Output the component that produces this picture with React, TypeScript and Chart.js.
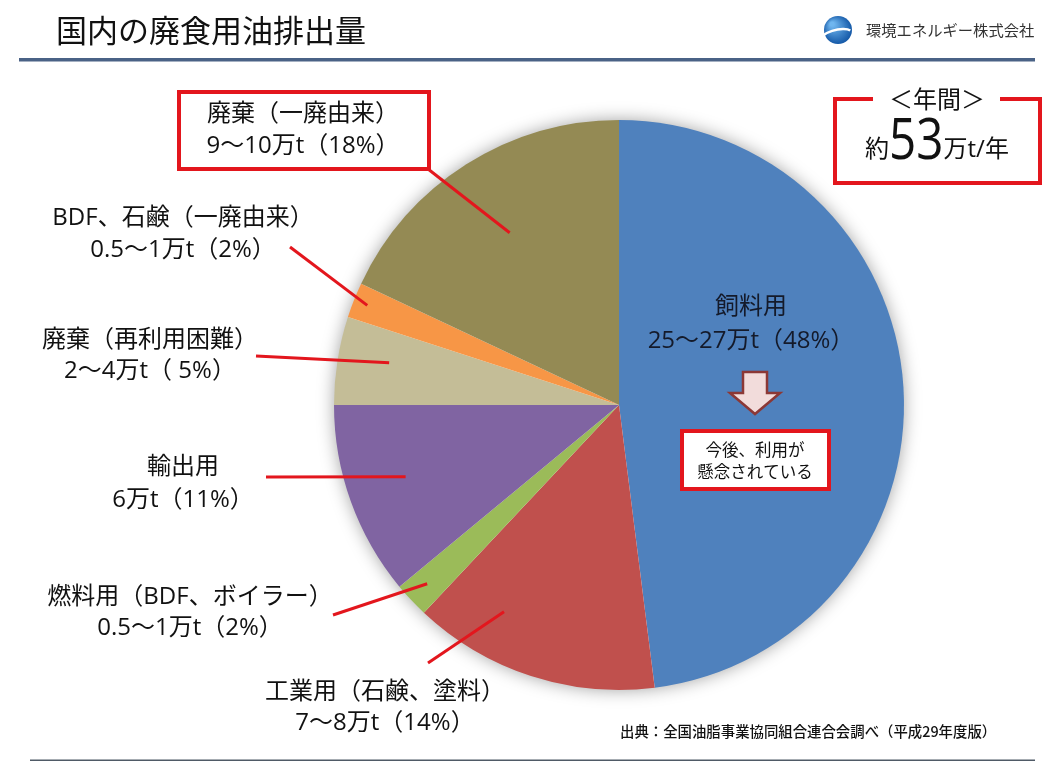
import React, { useEffect, useRef } from "react";
import { Chart, registerables } from "chart.js";

Chart.register(...registerables);

// ---- data ----
const categories = [
  "飼料用",
  "工業用（石鹸、塗料）",
  "燃料用（BDF、ボイラー）",
  "輸出用",
  "廃棄（再利用困難）",
  "BDF、石鹸（一廃由来）",
  "廃棄（一廃由来）",
];
const shares = [48, 14, 2, 11, 5, 2, 18];
const amountLines = [
  "25〜27万t（48%）",
  "7〜8万t（14%）",
  "0.5〜1万t（2%）",
  "6万t（11%）",
  "2〜4万t（ 5%）",
  "0.5〜1万t（2%）",
  "9〜10万t（18%）",
];
const sliceColors = ["#4f81bd", "#c0504d", "#9bbb59", "#8064a2", "#c4bd97", "#f79646", "#948a54"];

const titleText = "国内の廃食用油排出量";
const companyText = "環境エネルギー株式会社";
const sourceText = "出典：全国油脂事業協同組合連合会調べ（平成29年度版）";
const annualHead = "＜年間＞";
const annualPrefix = "約";
const annualValue = "53";
const annualSuffix = "万t/年";
const noteLines = ["今後、利用が", "懸念されている"];

// ---- layout (positions only) ----
const FONT = '"Open Sans", "Noto Sans CJK JP", sans-serif';
const CJK = '"Noto Sans CJK JP", "Noto Sans", sans-serif';
type LabelLayout = { cx: number; y1: number; y2: number; from?: [number, number]; t?: number; rf?: number; box?: [number, number, number, number] };
const labelLayout: LabelLayout[] = [
  { cx: 751, y1: 307, y2: 341 },
  { cx: 385, y1: 692, y2: 723, from: [428, 663], t: 0.72, rf: 0.83 },
  { cx: 190, y1: 597, y2: 628, from: [333, 615], t: 0.53, rf: 0.92 },
  { cx: 183, y1: 467, y2: 500, from: [266, 477], t: 0.53, rf: 0.79 },
  { cx: 150, y1: 340, y2: 371, from: [256, 356], t: 0.58, rf: 0.82 },
  { cx: 183, y1: 218, y2: 250, from: [290, 247], t: 0.5, rf: 0.95 },
  { cx: 303, y1: 114, y2: 146, from: [428, 169], t: 0.5, rf: 0.716, box: [179, 92, 250, 77] },
];

const RED = "#e3161d";

const shadowPlugin = {
  id: "pieShadow",
  beforeDatasetsDraw(chart: any) {
    const arc = chart.getDatasetMeta(0).data[0];
    if (!arc) return;
    const ctx = chart.ctx;
    ctx.save();
    ctx.shadowColor = "rgba(0,0,0,0.4)";
    ctx.shadowBlur = 18;
    ctx.fillStyle = "#ffffff";
    ctx.beginPath();
    ctx.arc(arc.x, arc.y, arc.outerRadius - 1, 0, Math.PI * 2);
    ctx.fill();
    ctx.restore();
  },
};

const decorPlugin = {
  id: "decor",
  afterDatasetsDraw(chart: any) {
    const ctx = chart.ctx as CanvasRenderingContext2D;
    const arcs = chart.getDatasetMeta(0).data;
    ctx.save();
    ctx.textBaseline = "middle";
    ctx.textAlign = "center";

    // header
    ctx.fillStyle = "#111";
    ctx.textAlign = "left";
    ctx.font = `31px ${CJK}`;
    ctx.fillText(titleText, 56, 30);
    ctx.fillStyle = "#4a6286";
    ctx.fillRect(19, 58, 1016, 3.5);

    // logo
    const g = ctx.createRadialGradient(832, 24, 2, 838, 30, 16);
    g.addColorStop(0, "#6fb6ef");
    g.addColorStop(1, "#0b4fa0");
    ctx.fillStyle = g;
    ctx.beginPath();
    ctx.arc(838, 30, 14, 0, Math.PI * 2);
    ctx.fill();
    ctx.strokeStyle = "#ffffff";
    ctx.lineWidth = 2.5;
    ctx.beginPath();
    ctx.ellipse(836, 36, 16, 6, -0.25, Math.PI * 0.95, Math.PI * 1.9);
    ctx.stroke();
    ctx.fillStyle = "#333";
    ctx.font = `15.3px ${CJK}`;
    ctx.fillText(companyText, 866, 30);

    // footer
    ctx.fillStyle = "#4f5a66";
    ctx.fillRect(30, 759.5, 1005, 1.5);
    ctx.fillStyle = "#111";
    ctx.font = `500 14.4px ${CJK}`;
    ctx.fillText(sourceText, 620, 732);

    // leader lines
    ctx.strokeStyle = RED;
    ctx.lineWidth = 3;
    labelLayout.forEach((L, i) => {
      if (!L.from) return;
      const a = arcs[i];
      const ang = a.startAngle + (L.t as number) * (a.endAngle - a.startAngle);
      const r = a.outerRadius * (L.rf as number);
      const ex = a.x + r * Math.cos(ang);
      const ey = a.y + r * Math.sin(ang);
      ctx.beginPath();
      ctx.moveTo(L.from[0], L.from[1]);
      ctx.lineTo(ex, ey);
      ctx.stroke();
    });

    // label boxes
    labelLayout.forEach((L) => {
      if (!L.box) return;
      ctx.fillStyle = "#fff";
      ctx.fillRect(L.box[0], L.box[1], L.box[2], L.box[3]);
      ctx.lineWidth = 4;
      ctx.strokeStyle = RED;
      ctx.strokeRect(L.box[0], L.box[1], L.box[2], L.box[3]);
    });

    // labels
    ctx.textAlign = "center";
    ctx.font = `24px ${FONT}`;
    labelLayout.forEach((L, i) => {
      ctx.fillStyle = i === 0 ? "#141a2a" : "#111";
      ctx.fillText(categories[i], L.cx, L.y1);
      ctx.fillText(amountLines[i], L.cx, L.y2);
    });

    // arrow
    ctx.fillStyle = "#f2dcdb";
    ctx.strokeStyle = "#8c3836";
    ctx.lineWidth = 2.5;
    ctx.beginPath();
    ctx.moveTo(743, 372);
    ctx.lineTo(767, 372);
    ctx.lineTo(767, 393);
    ctx.lineTo(780, 393);
    ctx.lineTo(755, 414);
    ctx.lineTo(730, 393);
    ctx.lineTo(743, 393);
    ctx.closePath();
    ctx.fill();
    ctx.stroke();

    // note box
    ctx.fillStyle = "#fff";
    ctx.fillRect(682, 431, 147, 58);
    ctx.strokeStyle = RED;
    ctx.lineWidth = 4;
    ctx.strokeRect(682, 431, 147, 58);
    ctx.fillStyle = "#111";
    ctx.font = `16.5px ${CJK}`;
    ctx.fillText(noteLines[0], 755, 450);
    ctx.fillText(noteLines[1], 755, 472);

    // annual box
    ctx.strokeStyle = RED;
    ctx.lineWidth = 4;
    ctx.beginPath();
    ctx.moveTo(873, 99);
    ctx.lineTo(835, 99);
    ctx.lineTo(835, 183);
    ctx.lineTo(1040, 183);
    ctx.lineTo(1040, 99);
    ctx.lineTo(1000, 99);
    ctx.stroke();
    ctx.fillStyle = "#111";
    ctx.font = `24px ${CJK}`;
    ctx.fillText(annualHead, 937, 99);

    ctx.textAlign = "left";
    ctx.textBaseline = "alphabetic";
    const base = 157;
    const bigScale = 0.85;
    ctx.font = `24px ${FONT}`;
    const w1 = ctx.measureText(annualPrefix).width;
    ctx.font = `500 56px ${FONT}`;
    const w2 = ctx.measureText(annualValue).width * bigScale;
    ctx.font = `24px ${FONT}`;
    const w3 = ctx.measureText(annualSuffix).width;
    let x = 937 - (w1 + w2 + w3) / 2;
    ctx.fillText(annualPrefix, x, base);
    x += w1;
    ctx.save();
    ctx.translate(x, base + 2);
    ctx.scale(bigScale, 1);
    ctx.font = `500 56px ${FONT}`;
    ctx.fillText(annualValue, 0, 0);
    ctx.restore();
    x += w2;
    ctx.font = `24px ${FONT}`;
    ctx.fillText(annualSuffix, x, base);

    ctx.restore();
  },
};

export default function App() {
  const ref = useRef<HTMLCanvasElement | null>(null);
  useEffect(() => {
    if (!ref.current) return;
    const chart = new Chart(ref.current, {
      type: "pie",
      data: {
        labels: categories,
        datasets: [
          {
            data: shares,
            backgroundColor: sliceColors,
            borderWidth: 0,
          },
        ],
      },
      options: {
        animation: false,
        responsive: false,
        devicePixelRatio: 1,
        layout: { padding: { left: 334, right: 145, top: 120, bottom: 83 } },
        plugins: { legend: { display: false }, tooltip: { enabled: false } },
        events: [],
      },
      plugins: [shadowPlugin, decorPlugin],
    });
    return () => chart.destroy();
  }, []);
  return (
    <div style={{ position: "absolute", left: 0, top: 0, width: 1049, height: 773, background: "#fff" }}>
      <canvas ref={ref} width={1049} height={773} style={{ width: 1049, height: 773, display: "block" }} />
    </div>
  );
}
